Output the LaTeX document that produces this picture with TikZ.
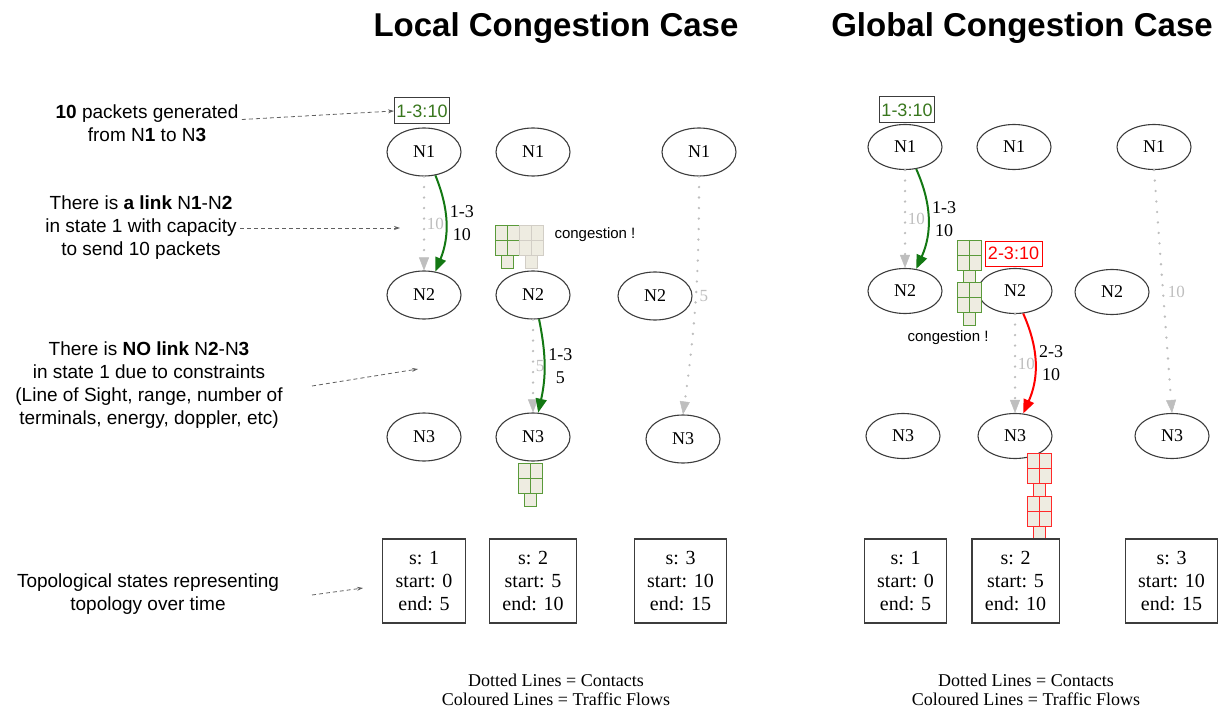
\documentclass[tikz,border=0pt]{standalone}
\usepackage{fontspec}
\setmainfont{Liberation Serif}
\newfontfamily\sansf{Liberation Sans}
\usetikzlibrary{shapes.geometric,arrows.meta}

\definecolor{flowgreen}{HTML}{137813}
\definecolor{tagggreen}{HTML}{38761D}
\definecolor{qgreen}{HTML}{5A9A3A}
\definecolor{qfill}{HTML}{EEECE1}
\definecolor{qgray}{HTML}{D2CEC6}
\definecolor{qred}{HTML}{FF2A2A}
\definecolor{contactgray}{HTML}{BEBEBE}
\definecolor{nodeline}{HTML}{3C3C3C}
\definecolor{notegray}{HTML}{606060}

% a 2x2 buffer grid with a small tab below it, top-left corner at (#1,#2)
\newcommand\qblock[3]{%
  \draw[draw=#3, fill=qfill, line width=0.9pt] (#1,#2) rectangle ++(24,30);
  \draw[draw=#3, line width=0.9pt] (#1+12,#2) -- ++(0,30) (#1,#2+15) -- ++(24,0);
  \draw[draw=#3, fill=qfill, line width=0.9pt] (#1+6,#2+30) rectangle ++(12,13);
}

\tikzset{
  sat/.style={ellipse, draw=nodeline, line width=1.1pt, minimum width=74pt,
    minimum height=48pt, inner sep=0pt, font=\fontsize{18}{20}\selectfont},
  satg/.style={sat, minimum height=45pt},
  contact/.style={draw=contactgray, line width=2.6pt, line cap=round,
    dash pattern=on 0pt off 10.5pt,
    -{Triangle[length=13pt,width=10pt,fill=contactgray,line width=0.5pt]}},
  flow/.style={line width=2pt, -{Triangle[length=14pt,width=11pt]}},
  clabel/.style={text=contactgray, anchor=west, inner sep=1.5pt,
    font=\fontsize{17}{19}\selectfont},
  flabel/.style={text=black, anchor=west, inner sep=3pt, align=center,
    font=\fontsize{18}{23}\selectfont},
  statebox/.style={draw=nodeline, line width=1.1pt, minimum height=84pt,
    inner xsep=13pt, align=center, font=\fontsize{20}{23}\selectfont},
  note/.style={align=center, font=\sansf\fontsize{19}{23}\selectfont},
  pointer/.style={draw=notegray, line width=0.8pt, dash pattern=on 4pt off 3pt,
    -{Stealth[length=6pt,width=4pt]}},
  tag/.style={draw=nodeline, line width=1pt, inner xsep=2pt, inner ysep=2pt,
    minimum height=26pt, font=\sansf\fontsize{18}{20}\selectfont},
  title/.style={font=\sansf\bfseries\fontsize{33}{38}\selectfont},
  legend/.style={align=center, font=\fontsize{18}{19.5}\selectfont},
  remark/.style={font=\sansf\fontsize{15}{17}\selectfont},
}

\begin{document}
\begin{tikzpicture}[x=1pt,y=-1pt]
\useasboundingbox (0,0) rectangle (1222,711);

% ---------------- titles ----------------
\node[title] (tl) at (556,28) {Local Congestion Case};
\node[title] (tg) at (1022,28) {Global Congestion Case};

% ---------------- local congestion case ----------------
\node[sat] (L1a) at (424,152) {N1};
\node[sat] (L2a) at (424,295) {N2};
\node[sat] (L3a) at (424,437) {N3};
\node[sat] (L1b) at (533,152) {N1};
\node[sat] (L2b) at (533,295) {N2};
\node[sat] (L3b) at (533,437) {N3};
\node[sat] (L1c) at (699,152) {N1};
\node[sat] (L2c) at (655,296) {N2};
\node[sat] (L3c) at (683,439) {N3};

\node[tag, text=tagggreen] (Ltag) at (422,111) {1-3:10};

\draw[contact] (L1a.south) -- node[clabel] (Lc1) {10} (L2a.north);
\draw[contact] (L2b.south) -- node[clabel] (Lc2) {5} (L3b.north);
\draw[contact] (L1c.south) to[bend left=4] node[clabel, xshift=1pt] (Lc3) {5} (L3c.north);

\draw[flow, flowgreen] (L1a.296) to[bend left=22]
  node[flabel] (Lf1) {1-3\\10} (L2a.64);
\draw[flow, flowgreen] (L2b.284) to[bend left=12]
  node[flabel] (Lf2) {1-3\\5} (L3b.78);

\qblock{495}{225}{qgreen}
\qblock{519}{225}{qgray}
\node[remark, anchor=west] (Lcong) at (551,235) {congestion !};
\qblock{518}{463}{qgreen}

\node[statebox] (Ls1) at (424,581) {s: 1\\start: 0\\end: 5};
\node[statebox] (Ls2) at (533,581) {s: 2\\start: 5\\end: 10};
\node[statebox] (Ls3) at (680.5,581) {s: 3\\start: 10\\end: 15};

\node[legend] (Lleg) at (556,690) {Dotted Lines = Contacts\\Coloured Lines = Traffic Flows};

% ---------------- global congestion case ----------------
\node[satg] (G1a) at (905,147) {N1};
\node[satg] (G2a) at (905,291) {N2};
\node[satg] (G3a) at (903,436) {N3};
\node[satg] (G1b) at (1014,147) {N1};
\node[satg] (G2b) at (1015,291) {N2};
\node[satg] (G3b) at (1015,436) {N3};
\node[satg] (G1c) at (1154,147) {N1};
\node[satg] (G2c) at (1112,292) {N2};
\node[satg] (G3c) at (1172,436) {N3};

\node[tag, text=tagggreen] (Gtag) at (907,110) {1-3:10};

\draw[contact] (G1a.south) -- node[clabel] (Gc1) {10} (G2a.north);
\draw[contact] (G2b.south) -- node[clabel] (Gc2) {10} (G3b.north);
\draw[contact] (G1c.south) -- node[clabel, xshift=2pt] (Gc3) {10} (G3c.north);

\draw[flow, flowgreen] (G1a.297) to[bend left=24]
  node[flabel] (Gf1) {1-3\\10} (G2a.63);
\draw[flow, red] (G2b.290) to[bend left=24]
  node[flabel] (Gf2) {2-3\\10} (G3b.70);

\qblock{957}{240}{qgreen}
\qblock{957}{282}{qgreen}
\node[tag, draw=red, text=red, line width=0.9pt, minimum height=25pt,
  inner xsep=3pt] (Gtag2) at (1013.5,253.5) {2-3:10};
\node[remark] (Gcong) at (948,338) {congestion !};
\qblock{1027}{453}{qred}
\qblock{1027}{496}{qred}

\node[statebox] (Gs1) at (905.5,581) {s: 1\\start: 0\\end: 5};
\node[statebox] (Gs2) at (1015.5,581) {s: 2\\start: 5\\end: 10};
\node[statebox] (Gs3) at (1171.5,581) {s: 3\\start: 10\\end: 15};

\node[legend] (Gleg) at (1026,690) {Dotted Lines = Contacts\\Coloured Lines = Traffic Flows};

% ---------------- explanatory notes ----------------
\node[note] (n1) at (147,123.5) {\textbf{10} packets generated\\from N\textbf{1} to N\textbf{3}};
\node[note] (n2) at (141,228) {There is \textbf{a link} N\textbf{1}-N\textbf{2}\\in state 1 with capacity\\to send 10 packets};
\node[note] (n3) at (149,385) {There is \textbf{NO link} N\textbf{2}-N\textbf{3}\\in state 1 due to constraints\\(Line of Sight, range, number of\\terminals, energy, doppler, etc)};
\node[note] (n4) at (148,594.5) {Topological states representing\\topology over time};

\coordinate (p2) at (400,228);
\coordinate (p3) at (418,369);
\coordinate (p4) at (363,588);
\coordinate (s3) at (312,386);
\coordinate (s4) at (312,595);

\draw[pointer] ([yshift=4pt]n1.east) -- (Ltag.west);
\draw[pointer] (n2.east) -- (p2);
\draw[pointer] (s3) -- (p3);
\draw[pointer] (s4) -- (p4);
\end{tikzpicture}
\end{document}
